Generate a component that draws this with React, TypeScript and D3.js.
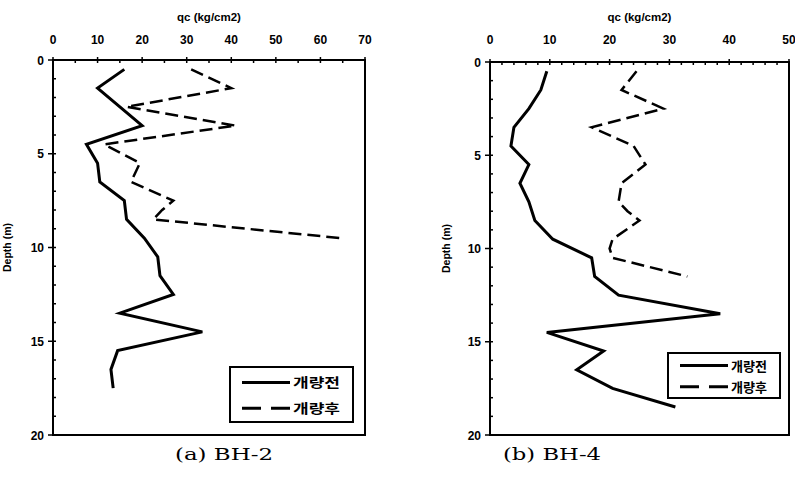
import React from 'react';
import * as d3 from 'd3';

// BH-2 (left panel)
const bh2BeforeQc = [16, 10, 20, 7.5, 10, 10.5, 16, 16.5, 20.5, 23.5, 24, 27, 15, 33.5, 14.5, 13, 13.5];
const bh2BeforeDepth = [0.5, 1.5, 3.5, 4.5, 5.5, 6.5, 7.5, 8.5, 9.5, 10.5, 11.5, 12.5, 13.5, 14.5, 15.5, 16.5, 17.5];
const bh2AfterQc = [31, 40, 16.5, 41, 11.5, 19.5, 17.5, 27, 24.5, 22.5, 64.5];
const bh2AfterDepth = [0.5, 1.5, 2.5, 3.5, 4.5, 5.5, 6.5, 7.5, 8, 8.5, 9.5];

// BH-4 (right panel)
const bh4BeforeQc = [9.5, 8.5, 6.5, 4, 3.5, 6.5, 5, 6.5, 7.5, 10.5, 17, 17.5, 21.5, 38.5, 9.5, 19, 14.5, 20.5, 31];
const bh4BeforeDepth = [0.5, 1.5, 2.5, 3.5, 4.5, 5.5, 6.5, 7.5, 8.5, 9.5, 10.5, 11.5, 12.5, 13.5, 14.5, 15.5, 16.5, 17.5, 18.5];
const bh4AfterQc = [24.5, 22, 29, 17, 24, 26, 22, 21.5, 23, 25, 20.5, 20, 20.5, 33];
const bh4AfterDepth = [0.5, 1.5, 2.5, 3.5, 4.5, 5.5, 6.5, 7.5, 8, 8.5, 9.5, 10, 10.5, 11.5];

const legendLabels = ['개량전', '개량후'];
const xTitle = 'qc (kg/cm2)';
const yTitle = 'Depth (m)';
const captions = ['(a) BH-2', '(b) BH-4'];
const depthTicks = [0, 5, 10, 15, 20];

const zip = (qc: number[], dep: number[]) => qc.map((q, i) => [q, dep[i]] as [number, number]);

type PanelProps = {
  x0: number; x1: number; y0: number; y1: number;
  xMax: number; minorX: number;
  before: [number, number][]; after: [number, number][];
  legend: { x: number; y: number; w: number; h: number };
  yTitleX: number; caption: string; captionX: number;
};

function Panel(p: PanelProps) {
  const x = d3.scaleLinear().domain([0, p.xMax]).range([p.x0, p.x1]);
  const y = d3.scaleLinear().domain([0, 20]).range([p.y0, p.y1]);
  const line = d3.line<[number, number]>().x(d => x(d[0])).y(d => y(d[1]));
  const majorX = d3.range(0, p.xMax + 0.01, 10);
  const minorXs = d3.range(0, p.xMax + 0.01, p.minorX).filter(v => v % 10 !== 0);
  const minorYs = d3.range(0, 20.01, 1).filter(v => v % 5 !== 0);
  const font = '"Liberation Sans", Arial, sans-serif';
  const lg = p.legend;
  const row1 = lg.y + lg.h * 0.28;
  const row2 = lg.y + lg.h * 0.75;
  return (
    <g>
      <text x={(p.x0 + p.x1) / 2} y={21} textAnchor="middle" fontFamily={font} fontWeight="bold" fontSize={11.5}>{xTitle}</text>
      {majorX.map(v => (
        <g key={'mx' + v}>
          <line x1={x(v)} x2={x(v)} y1={p.y0 - 3} y2={p.y0 + 3} stroke="#000" strokeWidth={1.5} />
          <text x={x(v)} y={44} textAnchor="middle" fontFamily={font} fontWeight="bold" fontSize={12}>{v}</text>
        </g>
      ))}
      {minorXs.map(v => (
        <line key={'nx' + v} x1={x(v)} x2={x(v)} y1={p.y0} y2={p.y0 + 3} stroke="#000" strokeWidth={1.5} />
      ))}
      {depthTicks.map(v => (
        <g key={'my' + v}>
          <line x1={p.x0 - 5} x2={p.x0 + 3} y1={y(v)} y2={y(v)} stroke="#000" strokeWidth={1.5} />
          <text x={p.x0 - 9} y={y(v) + 4.5} textAnchor="end" fontFamily={font} fontWeight="bold" fontSize={12}>{v}</text>
        </g>
      ))}
      {minorYs.map(v => (
        <line key={'ny' + v} x1={p.x0} x2={p.x0 + 3} y1={y(v)} y2={y(v)} stroke="#000" strokeWidth={1.5} />
      ))}
      <rect x={p.x0} y={p.y0} width={p.x1 - p.x0} height={p.y1 - p.y0} fill="none" stroke="#000" strokeWidth={2} />
      <text transform={`translate(${p.yTitleX},${(p.y0 + p.y1) / 2}) rotate(-90)`} textAnchor="middle" fontFamily={font} fontWeight="bold" fontSize={10.5}>{yTitle}</text>
      <path d={line(p.before) ?? ''} fill="none" stroke="#000" strokeWidth={3} strokeLinejoin="miter" />
      <path d={line(p.after) ?? ''} fill="none" stroke="#000" strokeWidth={2.5} strokeDasharray="13,6" />
      <rect x={lg.x} y={lg.y} width={lg.w} height={lg.h} fill="#fff" stroke="#000" strokeWidth={2} />
      <line x1={lg.x + 12} x2={lg.x + 60} y1={row1} y2={row1} stroke="#000" strokeWidth={3} />
      <line x1={lg.x + 12} x2={lg.x + 60} y1={row2} y2={row2} stroke="#000" strokeWidth={3} strokeDasharray="19,10" />
      <text x={lg.x + 63} y={row1 + 5} fontFamily='"Noto Sans CJK KR", sans-serif' fontWeight="bold" fontSize={13} textLength={lg.w - 76} lengthAdjust="spacingAndGlyphs">{legendLabels[0]}</text>
      <text x={lg.x + 63} y={row2 + 5} fontFamily='"Noto Sans CJK KR", sans-serif' fontWeight="bold" fontSize={13} textLength={lg.w - 76} lengthAdjust="spacingAndGlyphs">{legendLabels[1]}</text>
      <text x={p.captionX} y={460} fontFamily='"DejaVu Serif", serif' fontSize={17} textLength={98} lengthAdjust="spacingAndGlyphs">{p.caption}</text>
    </g>
  );
}

export default function App() {
  return (
    <svg width={795} height={493} style={{ position: 'absolute', left: 0, top: 0, background: '#fff' }}>
      <rect width={795} height={493} fill="#fff" />
      <Panel x0={53} x1={365} y0={60} y1={435} xMax={70} minorX={5}
        before={zip(bh2BeforeQc, bh2BeforeDepth)} after={zip(bh2AfterQc, bh2AfterDepth)}
        legend={{ x: 230, y: 367, w: 123, h: 55 }} yTitleX={11} caption={captions[0]} captionX={175} />
      <Panel x0={490} x1={789} y0={62} y1={435} xMax={50} minorX={2}
        before={zip(bh4BeforeQc, bh4BeforeDepth)} after={zip(bh4AfterQc, bh4AfterDepth)}
        legend={{ x: 668, y: 353, w: 112, h: 45 }} yTitleX={450} caption={captions[1]} captionX={503} />
    </svg>
  );
}
